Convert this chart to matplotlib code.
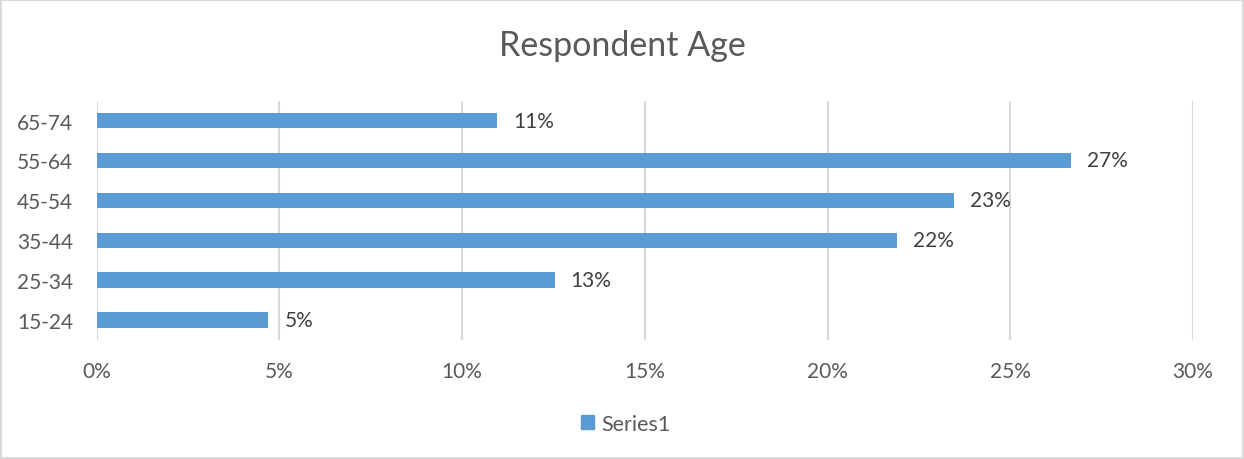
import matplotlib.pyplot as plt
from matplotlib.patches import Rectangle, Patch
from matplotlib.ticker import FuncFormatter

plt.rcParams['font.family'] = ['Lato', 'DejaVu Sans']

ages = ["15-24", "25-34", "35-44", "45-54", "55-64", "65-74"]
shares = [0.047, 0.1253, 0.219, 0.2346, 0.2666, 0.1096]
x_ticks = [0, 0.05, 0.10, 0.15, 0.20, 0.25, 0.30]

bar_color = "#5B9BD5"
grid_color = "#D9D9D9"

fig = plt.figure(figsize=(12.44, 4.6), dpi=100)
ax = fig.add_axes([0.0777, 0.259, 0.8813, 0.52])

ax.barh(ages, shares, height=0.38, color=bar_color, zorder=2)
for i, v in enumerate(shares):
    ax.annotate(f"{round(v * 100)}%", xy=(v, i), xytext=(11.5, 0),
                textcoords="offset points", va="center", ha="left",
                fontsize=15, color="#404040")

ax.set_xlim(0, 0.30)
ax.set_ylim(-0.5, len(ages) - 0.5)
ax.set_xticks(x_ticks)
ax.xaxis.set_major_formatter(FuncFormatter(lambda v, p: f"{round(v * 100)}%"))
ax.grid(axis="x", color=grid_color, linewidth=1.5, zorder=0)
ax.tick_params(length=0, labelsize=15, labelcolor="#595959")
ax.tick_params(axis="x", pad=15)
ax.tick_params(axis="y", pad=17)
for s in ax.spines.values():
    s.set_visible(False)

fig.suptitle("Respondent Age", y=0.935, fontsize=24.5, color="#595959")
fig.legend(handles=[Patch(color=bar_color, label="Series1")], loc="center",
           bbox_to_anchor=(0.503, 0.077), frameon=False, fontsize=15.5,
           handlelength=0.6, handleheight=0.6, handletextpad=0.3,
           labelcolor="#595959")

fig.add_artist(Rectangle((0.001, 0.002), 0.998, 0.996, transform=fig.transFigure,
                         fill=False, edgecolor=grid_color, linewidth=1.5))

fig.savefig("out.png", dpi=100)
